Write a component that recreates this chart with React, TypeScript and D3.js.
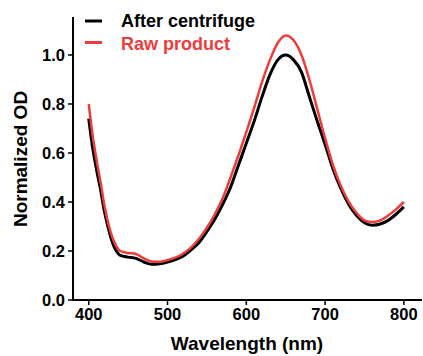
import React from "react";
import * as d3 from "d3";

const wavelengths = [400,405,410,415,420,425,430,435,440,450,460,470,480,490,500,510,520,530,540,550,560,570,580,590,600,610,620,630,640,650,660,670,680,690,700,710,720,730,740,750,760,770,780,790,800];
const afterCentrifuge = [0.74,0.62,0.53,0.45,0.36,0.29,0.235,0.20,0.182,0.175,0.17,0.155,0.146,0.148,0.155,0.165,0.18,0.205,0.235,0.28,0.33,0.39,0.46,0.55,0.64,0.73,0.83,0.92,0.98,1.0,0.98,0.93,0.83,0.73,0.635,0.535,0.455,0.39,0.345,0.315,0.305,0.31,0.325,0.35,0.38];
const rawProduct = [0.80,0.67,0.57,0.48,0.385,0.31,0.255,0.22,0.20,0.192,0.188,0.17,0.157,0.156,0.163,0.173,0.19,0.215,0.25,0.295,0.35,0.415,0.50,0.59,0.685,0.785,0.89,0.98,1.05,1.08,1.06,1.0,0.90,0.78,0.66,0.55,0.465,0.40,0.355,0.325,0.318,0.325,0.345,0.37,0.40];
const xTicks = [400, 500, 600, 700, 800];
const yTicks = [0, 0.2, 0.4, 0.6, 0.8, 1.0];
const seriesNames = ["After centrifuge", "Raw product"];
const seriesColors = ["#000000", "#ee3b3b"];

export default function App() {
  const W = 423, H = 356;
  const x = d3.scaleLinear().domain([380, 823]).range([73, 422]);
  const y = d3.scaleLinear().domain([0, 1.155]).range([300, 17]);
  const line = d3.line<number>().x((_, i) => x(wavelengths[i])).y(d => y(d)).curve(d3.curveMonotoneX);
  const font = "'Liberation Sans', Arial, sans-serif";
  const series = [afterCentrifuge, rawProduct];
  return (
    <svg width={W} height={H} style={{ position: "absolute", left: 0, top: 0 }} fontFamily={font}>
      <rect width={W} height={H} fill="#fff" />
      {series.map((s, k) => (
        <path key={k} d={line(s) || ""} fill="none" stroke={seriesColors[k]} strokeWidth={k === 0 ? 3 : 2.5} strokeLinejoin="round" />
      ))}
      {/* axes */}
      <line x1={73} x2={73} y1={y(1.155)} y2={301} stroke="#000" strokeWidth={2} />
      <line x1={72} x2={422} y1={300} y2={300} stroke="#000" strokeWidth={2} />
      {yTicks.map(t => (
        <g key={t}>
          <line x1={68} x2={73} y1={y(t)} y2={y(t)} stroke="#000" strokeWidth={1.5} />
          <text x={65} y={y(t)} dy="0.35em" textAnchor="end" fontSize={16.5} fontWeight="bold">{t.toFixed(1)}</text>
        </g>
      ))}
      {xTicks.map(t => (
        <g key={t}>
          <line x1={x(t)} x2={x(t)} y1={300} y2={305} stroke="#000" strokeWidth={1.5} />
          <text x={x(t)} y={320} textAnchor="middle" fontSize={16.5} fontWeight="bold">{t}</text>
        </g>
      ))}
      <text x={247} y={350} textAnchor="middle" fontSize={19} fontWeight="bold">Wavelength (nm)</text>
      <text transform="translate(27,159) rotate(-90)" textAnchor="middle" fontSize={19} fontWeight="bold">Normalized OD</text>
      {seriesNames.map((n, k) => (
        <g key={n}>
          <line x1={85} x2={102} y1={21 + k * 21.5} y2={21 + k * 21.5} stroke={seriesColors[k]} strokeWidth={3} />
          <text x={121} y={27 + k * 22.5} fontSize={18} fontWeight="bold" fill={seriesColors[k]}>{n}</text>
        </g>
      ))}
    </svg>
  );
}
